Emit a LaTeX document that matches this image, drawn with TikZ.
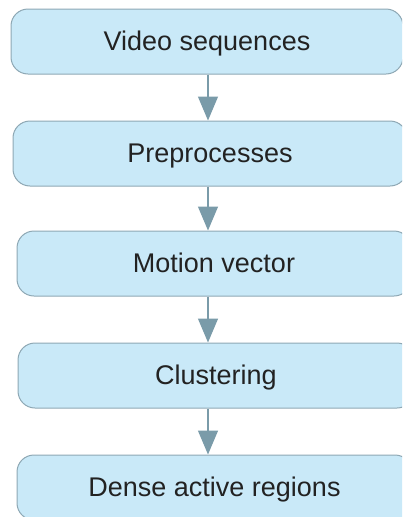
\documentclass[tikz,border=0pt]{standalone}
\usepackage{fontspec}
\setmainfont{Liberation Sans}
\usetikzlibrary{arrows.meta}
\definecolor{boxfill}{HTML}{C9E9F8}
\definecolor{boxline}{HTML}{8EA8B4}
\definecolor{arrowcol}{HTML}{7A9BA9}
\definecolor{textcol}{HTML}{222222}
\begin{document}
\begin{tikzpicture}[x=1pt,y=-1pt,
  stepbox/.style={draw=boxline,fill=boxfill,line width=1pt,rounded corners=17pt,
    minimum height=65pt,inner sep=0pt,text height=20pt,text depth=3pt,
    font=\fontsize{27}{30}\selectfont,text=textcol},
  flow/.style={draw=arrowcol,line width=1.3pt,-{Triangle[length=24pt,width=20pt]}}]
\useasboundingbox (0,0) rectangle (402,517);
\clip (0,0) rectangle (402,517);
\coordinate (ax) at (208,0);
\node[stepbox,minimum width=392pt] (b1) at (207,41.5) {Video sequences};
\node[stepbox,minimum width=394pt] (b2) at (210,153.5) {Preprocesses};
\node[stepbox,minimum width=394pt] (b3) at (214,263.5) {Motion vector};
\node[stepbox,minimum width=396pt] (b4) at (216,375.5) {Clustering};
\node[stepbox,minimum width=395pt] (b5) at (214.5,487.5) {Dense active regions};
\draw[flow] (b1.south -| ax) -- (b2.north -| ax);
\draw[flow] (b2.south -| ax) -- (b3.north -| ax);
\draw[flow] (b3.south -| ax) -- (b4.north -| ax);
\draw[flow] (b4.south -| ax) -- (b5.north -| ax);
\end{tikzpicture}
\end{document}
